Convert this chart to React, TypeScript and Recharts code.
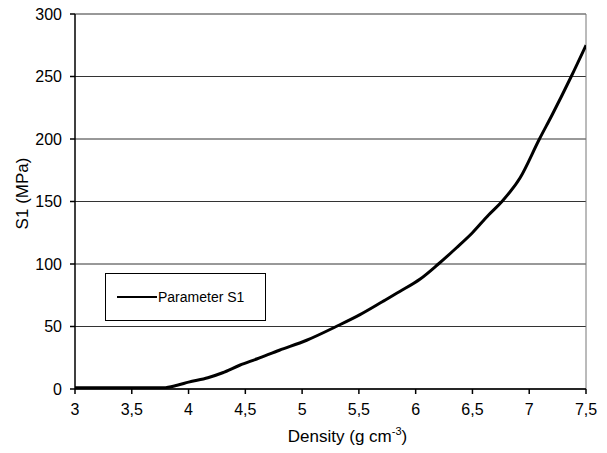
import React from "react";
import {
  LineChart,
  Line,
  XAxis,
  YAxis,
  CartesianGrid,
  ReferenceLine,
  Label,
} from "recharts";

// valeurs
const density = [3.0, 3.5, 3.78, 3.9, 4.0, 4.17, 4.3, 4.45, 4.6, 4.8, 5.04, 5.3, 5.51, 5.71, 5.86, 6.04, 6.2, 6.36, 6.5, 6.64, 6.76, 6.92, 7.09, 7.2, 7.37, 7.5];
const s1 = [1, 1, 1, 3, 5.5, 9, 13, 19, 24, 31, 39, 50, 59.5, 70, 78, 88, 100, 113, 125, 139, 150, 169, 200, 219, 250, 275];
const xTicks = [3, 3.5, 4, 4.5, 5, 5.5, 6, 6.5, 7, 7.5];
const yTicks = [0, 50, 100, 150, 200, 250, 300];
const seriesName = "Parameter S1";

const data = density.map((d, i) => ({ density: d, s1: s1[i] }));

const FONT = "'Liberation Sans', Arial, sans-serif";

const fmt = (v: number) => String(v).replace(".", ",");

function XTitle(props: any) {
  const { viewBox } = props;
  const cx = viewBox.x + viewBox.width / 2 + 17;
  return (
    <text x={cx} y={442} textAnchor="middle" fontSize={17} fontFamily={FONT} fill="#000">
      Density (g cm
      <tspan dy={-7} fontSize={11}>-3</tspan>
      <tspan dy={7}>)</tspan>
    </text>
  );
}

function LegendBox() {
  return (
    <div
      style={{
        position: "absolute",
        left: 105,
        top: 273,
        width: 161,
        height: 48,
        border: "1px solid #000",
        background: "#fff",
        display: "flex",
        alignItems: "center",
        fontFamily: FONT,
        fontSize: 14,
        boxSizing: "border-box",
      }}
    >
      <span style={{ display: "inline-block", width: 40, height: 0, borderTop: "2.5px solid #000", marginLeft: 11 }} />
      <span style={{ marginLeft: 1 }}>{seriesName}</span>
    </div>
  );
}

export default function App() {
  return (
    <div style={{ position: "absolute", left: 0, top: 0, width: 607, height: 453, background: "#fff" }}>
      <LineChart
        width={607}
        height={453}
        data={data}
        margin={{ top: 14, right: 21, left: 0, bottom: 0 }}
      >
        <CartesianGrid vertical={false} stroke="#333" strokeWidth={1} />
        <XAxis
          dataKey="density"
          type="number"
          domain={[3, 7.5]}
          ticks={xTicks}
          tickFormatter={fmt}
          height={64}
          stroke="#000"
          strokeWidth={1.5}
          tickSize={5}
          tickMargin={10}
          tick={{ fill: "#000", fontSize: 16, fontFamily: FONT }}
          allowDataOverflow
        >
          <Label content={<XTitle />} />
        </XAxis>
        <YAxis
          domain={[0, 300]}
          ticks={yTicks}
          width={75}
          stroke="#000"
          strokeWidth={1.5}
          tickSize={5}
          tickMargin={8}
          tick={{ fill: "#000", fontSize: 16, fontFamily: FONT }}
          allowDataOverflow
        >
          <Label
            value="S1 (MPa)"
            angle={-90}
            position="insideLeft"
            offset={0}
            style={{ fontSize: 17, fontFamily: FONT, fill: "#000", textAnchor: "middle" }}
            dx={22}
            dy={-8}
          />
        </YAxis>
        <ReferenceLine x={7.5} stroke="#777" strokeWidth={1} />
        <Line
          type="monotone"
          dataKey="s1"
          name={seriesName}
          stroke="#000"
          strokeWidth={3}
          dot={false}
          isAnimationActive={false}
        />
      </LineChart>
      <LegendBox />
    </div>
  );
}
